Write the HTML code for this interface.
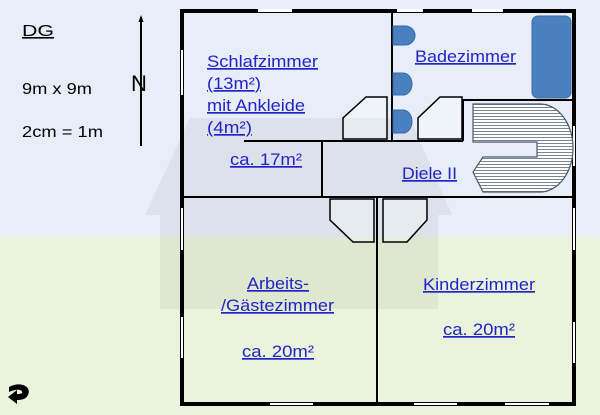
<!DOCTYPE html>
<html><head><meta charset="utf-8"><style>
body{margin:0;width:600px;height:415px;overflow:hidden;font-family:"Liberation Sans",sans-serif;}
svg{display:block}
</style></head><body>
<svg width="600" height="415" viewBox="0 0 600 415" xmlns="http://www.w3.org/2000/svg">
<defs>
<pattern id="st" width="6" height="3" patternUnits="userSpaceOnUse"><rect width="6" height="3" fill="#fff"/><rect y="2" width="6" height="1" fill="#7a8594"/></pattern>
</defs>
<rect width="600" height="237" fill="#e8eef8"/>
<rect y="237" width="600" height="178" fill="#eaf4dc"/>
<polygon points="145,215 190,118 410,118 452,215 438,215 438,309 160,309 160,215" fill="#000" opacity="0.05"/>
<!-- left info -->
<g font-size="16" fill="#000">
<text x="22" y="36" text-decoration="underline" textLength="32" lengthAdjust="spacingAndGlyphs">DG</text>
<text x="22" y="94" textLength="70" lengthAdjust="spacingAndGlyphs">9m x 9m</text>
<text x="22" y="137" textLength="81" lengthAdjust="spacingAndGlyphs">2cm = 1m</text>
<text x="131" y="91" font-size="22">N</text>
</g>
<line x1="141" y1="20" x2="141" y2="146" stroke="#000" stroke-width="2"/>
<polygon points="141,15 138.5,22 143.5,22" fill="#000"/>
<path d="M9,387 C20,381 32,386 28,395 C26,399 22,400 17,400 L17,404 L8,397 L17,390 L17,394 C21,394 23,393 22,392 C22,389 15,389 9,392 Z" fill="#000"/>
<!-- outer walls -->
<rect x="182" y="11" width="392" height="393" fill="none" stroke="#000" stroke-width="4"/>
<g fill="#fff">
<rect x="258" y="9" width="34" height="3"/><rect x="397" y="9" width="26" height="3"/><rect x="472" y="9" width="31" height="3"/>
<rect x="181" y="50" width="2" height="45"/><rect x="573" y="126" width="2" height="40"/>
<rect x="181" y="208" width="2" height="42"/><rect x="181" y="317" width="2" height="41"/>
<rect x="573" y="208" width="2" height="42"/><rect x="573" y="322" width="2" height="41"/>
<rect x="270" y="403" width="43" height="2"/><rect x="414" y="403" width="43" height="2"/><rect x="505" y="403" width="44" height="2"/>
</g>
<!-- internal walls -->
<g stroke="#000" stroke-width="2" fill="none">
<line x1="392" y1="11" x2="392" y2="141"/>
<line x1="244" y1="141" x2="463" y2="141"/>
<polyline points="463,141 463,100 574,100"/>
<line x1="322" y1="141" x2="322" y2="197"/>
<line x1="182" y1="197" x2="574" y2="197"/>
<line x1="377" y1="197" x2="377" y2="404"/>
</g>
<g stroke="#000" stroke-width="1.5" fill="#fff" fill-opacity="0.3">
<polygon points="343,139 343,118 366,97 387,97 387,139"/>
<polygon points="418,139 418,118 440,97 462,97 462,139"/>
<polygon points="330,199 330,220 353,242 374,242 374,199"/>
<polygon points="383,199 383,242 407,242 427,220 427,199"/>
</g>
<!-- bath fixtures -->
<g fill="#4a7fc0" stroke="#3a6aa5" stroke-width="1">
<rect x="532" y="16" width="39" height="82" rx="6"/>
<path d="M393,26 L405,26 A10,9.5 0 0 1 405,45 L393,45 Z"/>
<path d="M393,73 L403,73 A9,11 0 0 1 403,95 L393,95 Z"/>
<path d="M393,110 L403,110 A9,11.5 0 0 1 403,133 L393,133 Z"/>
</g>
<path d="M473,104 L540,104 A33,44 0 0 1 540,192 L483,192 L473,172 L483,157 L537,157 L537,142 L473,142 Z" fill="url(#st)" stroke="#4a5a6e" stroke-width="1.2"/>
<!-- labels -->
<g font-size="17" fill="#2323c8" text-decoration="underline" lengthAdjust="spacingAndGlyphs">
<text x="207" y="67" textLength="111" lengthAdjust="spacingAndGlyphs">Schlafzimmer</text>
<text x="207" y="89" textLength="54" lengthAdjust="spacingAndGlyphs">(13m²)</text>
<text x="207" y="111" textLength="98" lengthAdjust="spacingAndGlyphs">mit Ankleide</text>
<text x="207" y="133" textLength="45" lengthAdjust="spacingAndGlyphs">(4m²)</text>
<text x="230" y="165" textLength="72" lengthAdjust="spacingAndGlyphs">ca. 17m²</text>
<text x="415" y="62" textLength="101" lengthAdjust="spacingAndGlyphs">Badezimmer</text>
<text x="402" y="179" textLength="55" lengthAdjust="spacingAndGlyphs">Diele II</text>
<text x="247" y="289" textLength="62" lengthAdjust="spacingAndGlyphs">Arbeits-</text>
<text x="221" y="311" textLength="113" lengthAdjust="spacingAndGlyphs">/Gästezimmer</text>
<text x="242" y="357" textLength="72" lengthAdjust="spacingAndGlyphs">ca. 20m²</text>
<text x="423" y="290" textLength="112" lengthAdjust="spacingAndGlyphs">Kinderzimmer</text>
<text x="443" y="335" textLength="72" lengthAdjust="spacingAndGlyphs">ca. 20m²</text>
</g>
</svg>
</body></html>
